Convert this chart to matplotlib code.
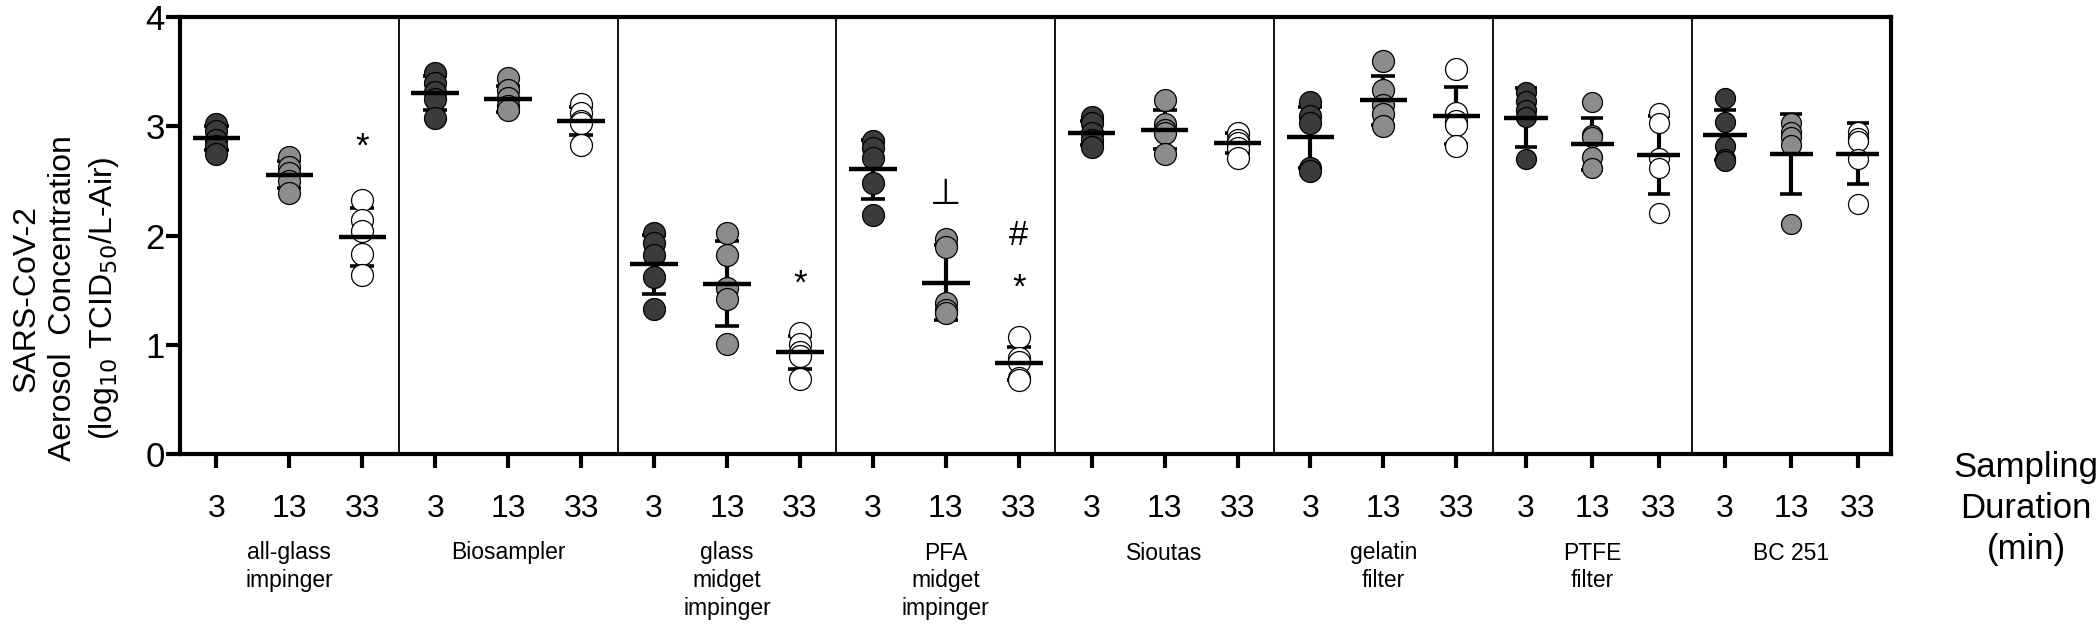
import numpy as np
import matplotlib
import matplotlib.pyplot as plt
matplotlib.use("Agg")

plt.rcParams["font.family"] = ["Liberation Sans", "DejaVu Sans"]
plt.rcParams["mathtext.fontset"] = "custom"
plt.rcParams["mathtext.rm"] = "Liberation Sans Narrow"
plt.rcParams["mathtext.it"] = "Liberation Sans Narrow:italic"
plt.rcParams["mathtext.bf"] = "Liberation Sans Narrow:bold"

samplers = [
    "all-glass\nimpinger", "Biosampler", "glass\nmidget\nimpinger",
    "PFA\nmidget\nimpinger", "Sioutas", "gelatin\nfilter", "PTFE\nfilter",
    "BC 251",
]
durations = ["3", "13", "33"]

# replicate values (log10 TCID50 / L-air), one list per sampler
pts_3 = [
    [3.02, 2.96, 2.88, 2.82, 2.75],
    [3.49, 3.40, 3.32, 3.25, 3.08],
    [2.02, 1.93, 1.82, 1.62, 1.33],
    [2.87, 2.80, 2.71, 2.48, 2.19],
    [3.09, 3.03, 2.94, 2.88, 2.81],
    [3.22, 3.10, 3.03, 2.62, 2.59],
    [3.32, 3.23, 3.15, 3.09, 2.70],
    [3.26, 3.04, 2.82, 2.70, 2.68],
]
pts_13 = [
    [2.72, 2.63, 2.57, 2.50, 2.39],
    [3.44, 3.33, 3.26, 3.19, 3.15],
    [2.02, 1.82, 1.52, 1.42, 1.01],
    [1.97, 1.90, 1.38, 1.32, 1.29],
    [3.24, 3.02, 2.97, 2.94, 2.75],
    [3.60, 3.33, 3.20, 3.11, 3.00],
    [3.22, 2.92, 2.90, 2.72, 2.62],
    [3.03, 2.95, 2.90, 2.83, 2.11],
]
pts_33 = [
    [2.33, 2.14, 2.04, 1.83, 1.64],
    [3.21, 3.12, 3.05, 3.03, 2.83],
    [1.11, 1.01, 0.93, 0.90, 0.69],
    [1.07, 0.88, 0.84, 0.70, 0.68],
    [2.94, 2.88, 2.85, 2.80, 2.71],
    [3.53, 3.12, 3.05, 3.01, 2.82],
    [3.12, 3.03, 2.71, 2.62, 2.21],
    [2.95, 2.89, 2.87, 2.70, 2.29],
]

# mean and SD as drawn in the figure
mean_3 = [2.89, 3.31, 1.74, 2.61, 2.94, 2.90, 3.08, 2.92]
mean_13 = [2.56, 3.25, 1.56, 1.57, 2.97, 3.24, 2.84, 2.75]
mean_33 = [1.99, 3.05, 0.93, 0.83, 2.85, 3.10, 2.74, 2.75]
sd_3 = [0.11, 0.155, 0.27, 0.27, 0.11, 0.28, 0.27, 0.23]
sd_13 = [0.125, 0.12, 0.39, 0.34, 0.18, 0.225, 0.235, 0.365]
sd_33 = [0.265, 0.13, 0.155, 0.15, 0.09, 0.26, 0.355, 0.28]

# significance marks: (sampler, duration, symbol, y)
marks = [
    (0, 2, "*", 2.81),
    (2, 2, "*", 1.56),
    (3, 1, "\u22a5", 2.38),
    (3, 2, "#", 2.00),
    (3, 2, "*", 1.52),
]

pts = [pts_3, pts_13, pts_33]
means = [mean_3, mean_13, mean_33]
sds = [sd_3, sd_13, sd_33]
fills = ["#3b3b3b", "#8c8c8c", "white"]
group_width = np.array([1.0] * 6 + [0.91] * 2)
starts = np.concatenate([[0.0], np.cumsum(3 * group_width)])

W, H = 2100, 626
fig = plt.figure(figsize=(W / 100, H / 100), dpi=100)
ax = fig.add_axes([180 / W, 1 - 454 / H, 1711 / W, (454 - 17.3) / H])

xticks = []
for g in range(len(samplers)):
    w = group_width[g]
    for d in range(3):
        x = starts[g] + w * (d + 0.5)
        xticks.append(x)
        vals = pts[d][g]
        m, s = means[d][g], sds[d][g]
        ax.vlines(x, m - s, m + s, color="black", lw=3, zorder=2)
        ax.hlines([m - s, m + s], x - 0.165 * w, x + 0.165 * w,
                  color="black", lw=2.6, zorder=2)
        ax.plot([x] * len(vals), vals, linestyle="none", marker="o",
                ms=15.8 * w, mfc=fills[d], mec="black", mew=0.9, zorder=3)
        ax.hlines(m, x - 0.326 * w, x + 0.326 * w, color="black",
                  lw=3.2, zorder=4)

for g in range(1, len(samplers)):
    ax.axvline(starts[g], color="black", lw=1.3, zorder=1)

for g, d, sym, y in marks:
    x = starts[g] + group_width[g] * (d + 0.5)
    if sym == "\u22a5":
        ax.text(x, y, sym, ha="center", va="center", fontsize=26,
                family="DejaVu Sans")
    else:
        ax.text(x, y, sym, ha="center", va="center", fontsize=25)

ax.set_xlim(0, starts[-1])
ax.set_ylim(0, 4)
ax.set_yticks([0, 1, 2, 3, 4])
ax.set_xticks(xticks)
ax.set_xticklabels(durations * len(samplers))
ax.tick_params(axis="y", length=10, width=3, labelsize=25, pad=1)
ax.tick_params(axis="x", length=10, width=3, labelsize=23, pad=18.5)
for sp in ax.spines.values():
    sp.set_linewidth(3)

# sampler names below the middle tick of each group
for g, name in enumerate(samplers):
    xm = starts[g] + group_width[g] * 1.5
    xf = (180 + xm / starts[-1] * 1711) / W
    for i, line in enumerate(name.split("\n")):
        fig.text(xf, 1 - (553 + 27.5 * i) / H, line, ha="center",
                 va="center", fontsize=16.5)

for i, line in enumerate(["Sampling", "Duration", "(min)"]):
    fig.text(2026 / W, 1 - (467 + 41.5 * i) / H, line, ha="center",
             va="center", fontsize=25)

ylab = ["SARS-CoV-2", "Aerosol  Concentration",
        "(log$_{10}$ TCID$_{50}$/L-Air)"]
for xpx, line in zip([27, 63, 104], ylab):
    fig.text(xpx / W, 1 - 298 / H, line, ha="center", va="center",
             rotation=90, fontsize=23,
             family=["Liberation Sans Narrow", "Liberation Sans"])

fig.savefig("out.png", dpi=100)
